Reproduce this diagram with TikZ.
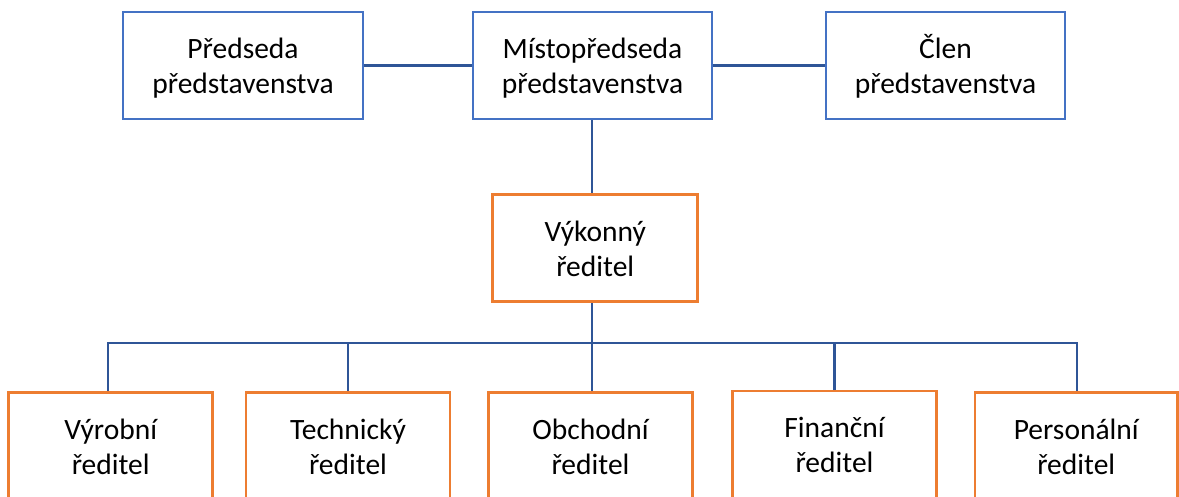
\documentclass[tikz,border=0pt]{standalone}
\usepackage{fontspec}
\setmainfont{Carlito}
\definecolor{boxblue}{HTML}{4472C4}
\definecolor{lineblue}{HTML}{2F5597}
\definecolor{boxorange}{HTML}{ED7D31}
\newcommand\twolines[2]{\begin{tabular}{@{}c@{}}\rule{0pt}{31.5pt}#1\\#2\end{tabular}}
\begin{document}
\begin{tikzpicture}[x=1pt,y=-1pt,
  every node/.style={font=\fontsize{29.5}{35}\selectfont, inner sep=0pt},
  topbox/.style={draw=boxblue, line width=2.8pt, fill=white, minimum width=239pt, minimum height=107pt},
  ceobox/.style={draw=boxorange, line width=2.8pt, fill=white, minimum width=205pt, minimum height=107pt},
  depbox/.style={draw=boxorange, line width=2.8pt, fill=white, minimum width=204pt, minimum height=107pt},
  conn/.style={draw=lineblue, line width=2.8pt}]
\useasboundingbox (0,0) rectangle (1179,497);
\clip (0,0) rectangle (1179,497);
% top row
\node[topbox, minimum width=240pt] (p) at (243,65.5) {\twolines{Předseda}{představenstva}};
\node[topbox] (m) at (592.5,65.5) {\twolines{Místopředseda}{představenstva}};
\node[topbox] (c) at (945.5,65.5) {\twolines{Člen}{představenstva}};
% CEO
\node[ceobox] (v) at (595.25,248.3) {\twolines{Výkonný}{ředitel}};
% directors
\node[depbox] (d1) at (110.7,446) {\twolines{Výrobní}{ředitel}};
\node[depbox] (d2) at (348,446) {\twolines{Technický}{ředitel}};
\node[depbox] (d3) at (590.5,446) {\twolines{Obchodní}{ředitel}};
\node[depbox] (d4) at (834.5,444.5) {\twolines{Finanční}{ředitel}};
\node[depbox, minimum width=202.5pt] (d5) at (1076.25,446) {\twolines{Personální}{ředitel}};
% bus coordinates
\coordinate (bus) at (592,343);
\coordinate (busL) at (108,343);
\coordinate (busR) at (1077,343);
% connectors
\draw[conn] (p.east) -- (m.west);
\draw[conn] (m.east) -- (c.west);
\draw[conn] (m.south -| bus) -- (v.north -| bus);
\draw[conn] (v.south -| bus) -- (bus);
\draw[conn] (busL |- d1.north) -- (busL) -- (busR) -- (busR |- d5.north);
\draw[conn] (d2.north) -- (d2.north |- bus);
\draw[conn] (d3.north -| bus) -- (bus);
\draw[conn] (d4.north) -- (d4.north |- bus);
\end{tikzpicture}
\end{document}
